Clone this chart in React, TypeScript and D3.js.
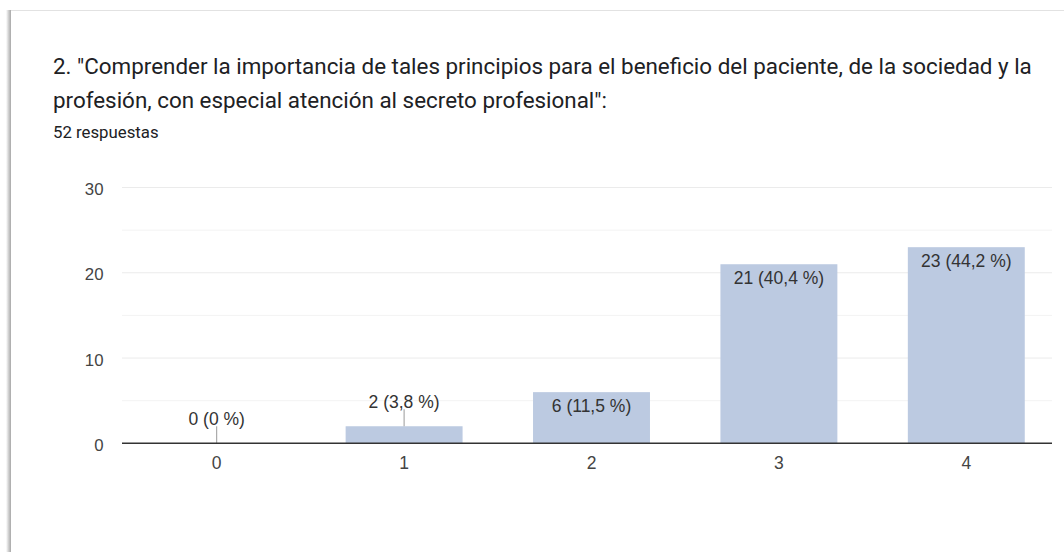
import React from "react";
import * as d3 from "d3";

const categories = ["0", "1", "2", "3", "4"];
const counts = [0, 2, 6, 21, 23];
const labels = ["0 (0 %)", "2 (3,8 %)", "6 (11,5 %)", "21 (40,4 %)", "23 (44,2 %)"];
const yTicks = [0, 10, 20, 30];
const yMinor = [5, 15, 25];
const titleLines = [
  "2. \"Comprender la importancia de tales principios para el beneficio del paciente, de la sociedad y la",
  "profesión, con especial atención al secreto profesional\":",
];
const subtitle = "52 respuestas";

export default function App() {
  const W = 1064, H = 552;
  const left = 123, right = 1060, top = 187.5, bottom = 443.3;
  const x = d3.scaleBand<string>().domain(categories).range([left, right]).paddingInner(0.376).paddingOuter(0.188);
  const y = d3.scaleLinear().domain([0, 30]).range([bottom, top]);
  const gridRight = 1052;
  const font = "Roboto, Arial, sans-serif";
  const chartFont = "'Liberation Sans', Arial, sans-serif";
  return (
    <svg width={W} height={H} style={{ position: "absolute", left: 0, top: 0 }} fontFamily={font}>
      <defs>
        <linearGradient id="sh" x1="0" x2="1" y1="0" y2="0">
          <stop offset="0" stopColor="#fff" />
          <stop offset="0.6" stopColor="#c8c8c8" />
          <stop offset="1" stopColor="#a8a8a8" />
        </linearGradient>
      </defs>
      <rect x={0} y={0} width={W} height={H} fill="#fff" />
      <rect x={6} y={10} width={5} height={H} fill="url(#sh)" />
      <line x1={11} x2={W} y1={10.5} y2={10.5} stroke="#e2e2e2" />
      {titleLines.map((t, i) => (
        <text key={i} x={53} y={74 + i * 34} fontSize={22.4} fill="#202124">{t}</text>
      ))}
      <text x={53} y={137.5} fontSize={16.8} fill="#202124">{subtitle}</text>
      {yMinor.map((v) => (
        <line key={"m" + v} x1={left - 1} x2={gridRight} y1={y(v)} y2={y(v)} stroke="#f3f3f3" />
      ))}
      {yTicks.filter((v) => v > 0).map((v) => (
        <line key={"g" + v} x1={left - 1} x2={gridRight} y1={y(v)} y2={y(v)} stroke="#ebebeb" />
      ))}
      {yTicks.map((v) => (
        <text key={"t" + v} x={103.5} y={y(v) + 7.5} fontSize={16.8} fill="#444" textAnchor="end" fontFamily={chartFont}>{v}</text>
      ))}
      {categories.map((c, i) => {
        const bx = x(c)!;
        const bw = x.bandwidth();
        const cx = bx + bw / 2;
        const ty = y(counts[i]);
        const inside = bottom - ty > 30;
        return (
          <g key={c} fontFamily={chartFont}>
            {counts[i] > 0 && <rect x={bx} y={ty} width={bw} height={bottom - ty} fill="#bccae1" />}
            {inside ? (
              <text x={cx} y={ty + 20} fontSize={17.5} fill="#333" textAnchor="middle">{labels[i]}</text>
            ) : (
              <>
                <line x1={cx} x2={cx} y1={ty} y2={ty - 17} stroke="#999" />
                <text x={cx} y={ty - 18} fontSize={17.5} fill="#333" textAnchor="middle">{labels[i]}</text>
              </>
            )}
            <text x={cx} y={469} fontSize={17.5} fill="#444" textAnchor="middle">{c}</text>
          </g>
        );
      })}
      <line x1={left - 1} x2={gridRight} y1={bottom} y2={bottom} stroke="#333" strokeWidth={1.5} />
    </svg>
  );
}
